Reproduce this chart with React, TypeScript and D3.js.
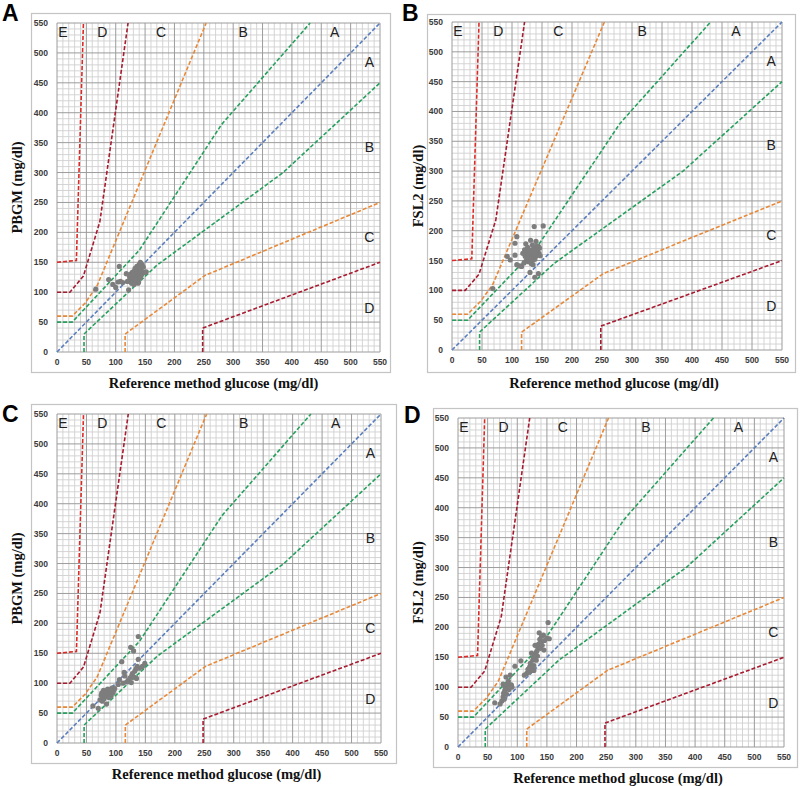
import React from "react";
import * as d3 from "d3";

type P = [number, number];

// Parkes error grid boundaries
const zoneDUpper: P[] = [[0, 150], [33, 153], [45, 550]];
const zoneCUpper: P[] = [[0, 100], [22, 100], [45, 127], [73, 218], [121, 550]];
const zoneCLower: P[] = [[248, 0], [248, 40], [550, 150]];
const zoneBUpper: P[] = [[0, 60], [26, 60], [48, 82], [68, 110], [254, 550]];
const zoneBLower: P[] = [[116, 0], [116, 30], [252, 128], [550, 250]];
const zoneAUpper: P[] = [[0, 50], [26, 50], [140, 170], [280, 380], [431, 550]];
const zoneALower: P[] = [[46, 0], [46, 30], [170, 145], [385, 300], [550, 450]];
const identity: P[] = [[0, 0], [550, 550]];

const axisTicks = [0, 50, 100, 150, 200, 250, 300, 350, 400, 450, 500, 550];

const topZoneLabels: { t: string; x: number; y: number }[] = [
  { t: "E", x: 10, y: 535 },
  { t: "D", x: 77, y: 535 },
  { t: "C", x: 177, y: 535 },
  { t: "B", x: 317, y: 535 },
  { t: "A", x: 473, y: 535 },
  { t: "A", x: 532, y: 484 },
  { t: "B", x: 532, y: 343 },
  { t: "C", x: 532, y: 193 },
  { t: "D", x: 532, y: 73 },
];

const pointsA: P[] = [
  [66, 105], [88, 121], [95, 113], [100, 108], [104, 117], [108, 118], [112, 116], [106, 143], [118, 131], [122, 104],
  [120, 118], [124, 124], [125, 130], [126, 122], [127, 127], [128, 133], [128, 119], [129, 125], [130, 128], [130, 122],
  [131, 135], [132, 130], [132, 117], [133, 124], [133, 127], [134, 131], [135, 120], [135, 138], [136, 126], [136, 143],
  [137, 129], [137, 122], [138, 133], [138, 115], [139, 140], [140, 127], [140, 146], [141, 135], [142, 124], [142, 150],
  [143, 138], [144, 129], [145, 146], [146, 133], [147, 142], [150, 133], [152, 134], [127, 115], [131, 113], [134, 121],
  [139, 117], [125, 126], [129, 131], [123, 128], [133, 140],
];

const pointsB: P[] = [
  [68, 103], [92, 157], [97, 151], [105, 179], [108, 190], [105, 159], [108, 143], [112, 141], [116, 140], [120, 146],
  [122, 157], [123, 178], [124, 150], [125, 162], [126, 155], [127, 148], [128, 149], [128, 165], [129, 158], [130, 130],
  [130, 152], [131, 184], [131, 160], [132, 145], [133, 155], [133, 168], [134, 150], [135, 143], [135, 162], [136, 158],
  [137, 207], [137, 170], [138, 122], [138, 152], [139, 165], [140, 182], [140, 157], [141, 174], [142, 160], [143, 168],
  [144, 128], [144, 174], [145, 162], [146, 171], [147, 158], [152, 208], [118, 162], [121, 168], [126, 172], [134, 176],
];

const pointsC: P[] = [
  [61, 62], [70, 58], [73, 72], [75, 80], [76, 84], [77, 70], [78, 76], [79, 88], [80, 74], [81, 82],
  [82, 78], [83, 86], [84, 65], [85, 80], [86, 90], [87, 84], [88, 76], [89, 88], [90, 83], [91, 90],
  [92, 79], [93, 86], [94, 92], [95, 84], [96, 88], [98, 91], [104, 98], [106, 106], [110, 136], [112, 100],
  [114, 118], [115, 112], [118, 102], [121, 105], [124, 109], [125, 160], [126, 101], [127, 113], [128, 116], [130, 154],
  [131, 110], [132, 120], [134, 124], [135, 108], [136, 128], [138, 140], [138, 178], [140, 125], [145, 128], [149, 133],
];

const pointsD: P[] = [
  [62, 74], [71, 72], [74, 77], [76, 84], [77, 90], [78, 80], [79, 95], [76, 105], [80, 100], [81, 117],
  [82, 88], [84, 104], [85, 110], [86, 96], [88, 120], [90, 104], [91, 100], [96, 135], [106, 144], [112, 120],
  [116, 123], [118, 130], [120, 125], [121, 134], [122, 140], [124, 157], [125, 128], [126, 145], [127, 150], [128, 136],
  [130, 170], [131, 155], [132, 145], [133, 160], [134, 152], [135, 165], [136, 172], [137, 191], [138, 180], [139, 165],
  [140, 176], [141, 185], [142, 170], [144, 187], [145, 162], [146, 178], [150, 182], [152, 208], [154, 181], [128, 128],
];

const panelLetters = ["A", "B", "C", "D"];
const yTitles = ["PBGM (mg/dl)", "FSL2 (mg/dl)", "PBGM (mg/dl)", "FSL2 (mg/dl)"];
const xTitle = "Reference method glucose (mg/dl)";

interface Layout {
  x0: number; x1: number; y0: number; y1: number;
  fx0: number; fx1: number; fy0: number; fy1: number;
  lx: number; ly: number; ytx: number;
}

const layouts: Layout[] = [
  { x0: 57, x1: 380, y0: 352, y1: 23, fx0: 31, fx1: 390, fy0: 13, fy1: 372, lx: 2, ly: 21, ytx: 17 },
  { x0: 452, x1: 782, y0: 350, y1: 22, fx0: 427, fx1: 795, fy0: 14, fy1: 372, lx: 402, ly: 21, ytx: 418 },
  { x0: 57, x1: 381, y0: 743, y1: 414, fx0: 31, fx1: 396, fy0: 404, fy1: 763, lx: 2, ly: 422, ytx: 17 },
  { x0: 458, x1: 784, y0: 747, y1: 418, fx0: 433, fx1: 797, fy0: 408, fy1: 767, lx: 404, ly: 423, ytx: 418 },
];

const lineSpecs: { pts: P[]; color: string }[] = [
  { pts: zoneDUpper, color: "#dc2a26" },
  { pts: zoneCUpper, color: "#a81c30" },
  { pts: zoneCLower, color: "#a81c30" },
  { pts: zoneBUpper, color: "#e8893a" },
  { pts: zoneBLower, color: "#e8893a" },
  { pts: zoneAUpper, color: "#27a05e" },
  { pts: zoneALower, color: "#27a05e" },
  { pts: identity, color: "#5b7fbd" },
];

const allPoints = [pointsA, pointsB, pointsC, pointsD];

function Panel({ i }: { i: number }) {
  const L = layouts[i];
  const x = d3.scaleLinear().domain([0, 550]).range([L.x0, L.x1]);
  const y = d3.scaleLinear().domain([0, 550]).range([L.y0, L.y1]);
  const line = d3.line<P>().x((d) => x(d[0])).y((d) => y(d[1]));
  const minor = d3.range(0, 551, 10);
  const pts = allPoints[i];
  return (
    <g>
      <rect x={L.fx0 + 0.5} y={L.fy0 + 0.5} width={L.fx1 - L.fx0} height={L.fy1 - L.fy0} fill="#fff" stroke="#c4c4c4" strokeWidth={1.2} />
      {minor.filter((v) => v % 50 !== 0).map((v) => (
        <g key={"m" + v}>
          <line x1={x(v)} x2={x(v)} y1={y(0)} y2={y(550)} stroke="#d0d0d0" strokeWidth={0.9} />
          <line x1={x(0)} x2={x(550)} y1={y(v)} y2={y(v)} stroke="#d0d0d0" strokeWidth={0.9} />
        </g>
      ))}
      {axisTicks.map((v) => (
        <g key={"M" + v}>
          <line x1={x(v)} x2={x(v)} y1={y(0)} y2={y(550)} stroke="#9c9c9c" strokeWidth={1} />
          <line x1={x(0)} x2={x(550)} y1={y(v)} y2={y(v)} stroke="#9c9c9c" strokeWidth={1} />
        </g>
      ))}
      {axisTicks.map((v) => (
        <text key={"xt" + v} x={x(v)} y={L.y0 + 13} textAnchor="middle" fontFamily="Liberation Sans, Arial, sans-serif" fontWeight="bold" fontSize={8.5} fill="#3a3a3a">{v}</text>
      ))}
      {axisTicks.map((v) => (
        <text key={"yt" + v} x={L.x0 - 9} y={y(v) + 3} textAnchor="end" fontFamily="Liberation Sans, Arial, sans-serif" fontWeight="bold" fontSize={8.5} fill="#3a3a3a">{v}</text>
      ))}
      {lineSpecs.map((s, k) => (
        <path key={"l" + k} d={line(s.pts) || ""} fill="none" stroke={s.color} strokeWidth={1.6} strokeDasharray="4,2" />
      ))}
      {topZoneLabels.map((z, k) => (
        <text key={"z" + k} x={x(z.x)} y={y(z.y) + 5} textAnchor="middle" fontFamily="Liberation Sans, Arial, sans-serif" fontSize={14} fill="#222">{z.t}</text>
      ))}
      {pts.map((p, k) => (
        <circle key={"p" + k} cx={x(p[0])} cy={y(p[1])} r={2.6} fill="#7d7d7d" />
      ))}
      <text x={(L.fx0 + L.fx1) / 2 + 3} y={L.fy1 + 16} textAnchor="middle" fontFamily="Liberation Serif, DejaVu Serif, serif" fontWeight="bold" fontSize={14.5} fill="#111">{xTitle}</text>
      <text transform={`translate(${L.ytx + 5},${(L.y0 + L.y1) / 2}) rotate(-90)`} textAnchor="middle" fontFamily="Liberation Serif, DejaVu Serif, serif" fontWeight="bold" fontSize={14.5} fill="#111">{yTitles[i]}</text>
      <text x={L.lx} y={L.ly} fontFamily="Liberation Sans, Arial, sans-serif" fontWeight="bold" fontSize={23} fill="#000">{panelLetters[i]}</text>
    </g>
  );
}

export default function App() {
  return (
    <svg width={800} height={786} style={{ position: "absolute", left: 0, top: 0, background: "#fff" }}>
      <rect x={0} y={0} width={800} height={786} fill="#fff" />
      {[0, 1, 2, 3].map((i) => (
        <Panel key={i} i={i} />
      ))}
    </svg>
  );
}
